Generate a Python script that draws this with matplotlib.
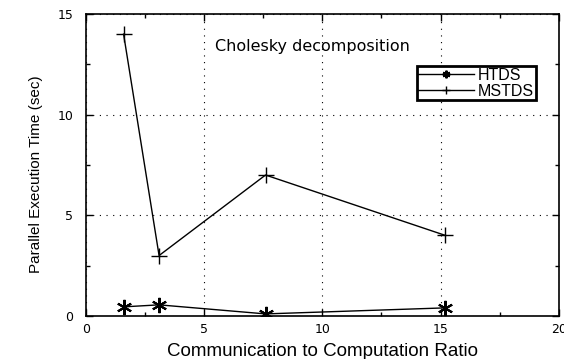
import matplotlib
matplotlib.use("Agg")
import matplotlib.pyplot as plt
from matplotlib.ticker import MultipleLocator

ratio = [1.6, 3.1, 7.6, 15.2]
htds = [0.45, 0.55, 0.1, 0.4]
mstds = [14.0, 3.0, 7.0, 4.0]
labels = ["HTDS", "MSTDS"]
x_ticks = [0, 5, 10, 15, 20]
y_ticks = [0, 5, 10, 15]

plt.rcParams['font.family'] = ['DejaVu Sans']

fig = plt.figure(figsize=(5.64, 3.59), dpi=100)
ax = fig.add_axes([0.152, 0.12, 0.839, 0.841])

ax.plot(ratio, htds, color='black', lw=1.0, marker=(6, 2, 0), ms=11, mew=1.5, label=labels[0])
ax.plot(ratio, mstds, color='black', lw=1.0, marker='+', ms=11, mew=1.0, label=labels[1])

ax.set_xlim(0, 20)
ax.set_ylim(0, 15)
ax.set_xticks(x_ticks)
ax.set_yticks(y_ticks)
ax.xaxis.set_minor_locator(MultipleLocator(2.5))
ax.yaxis.set_minor_locator(MultipleLocator(2.5))
ax.tick_params(which='both', direction='in', top=True, right=True, labelsize=9, width=1.0)
ax.tick_params(which='major', length=5)
ax.tick_params(which='minor', length=3)
ax.tick_params(axis='x', pad=5)
ax.tick_params(axis='y', pad=9)
ax.grid(True, which='major', linestyle=(0, (1, 5)), color='black', lw=0.8)
for s in ax.spines.values():
    s.set_linewidth(1.2)

ax.set_xlabel("Communication to Computation Ratio", fontsize=13.5, labelpad=5,
              family='Liberation Sans')
ax.set_ylabel("Parallel Execution Time (sec)", fontsize=11, family='Liberation Sans')
ax.yaxis.set_label_coords(-0.09, 0.47)

ax.text(9.6, 13.4, "Cholesky decomposition", fontsize=11.5, ha='center', va='center')

leg = ax.legend(loc='upper right', bbox_to_anchor=(0.951, 0.827),
                prop={'family': 'Liberation Sans', 'size': 11.5},
                frameon=True, fancybox=False, edgecolor='black', framealpha=1,
                borderpad=0.1, labelspacing=0.05, handlelength=3.5, handletextpad=0.25,
                borderaxespad=0, markerscale=0.5)
leg.get_frame().set_linewidth(2.0)

fig.savefig("out.png", dpi=100)
